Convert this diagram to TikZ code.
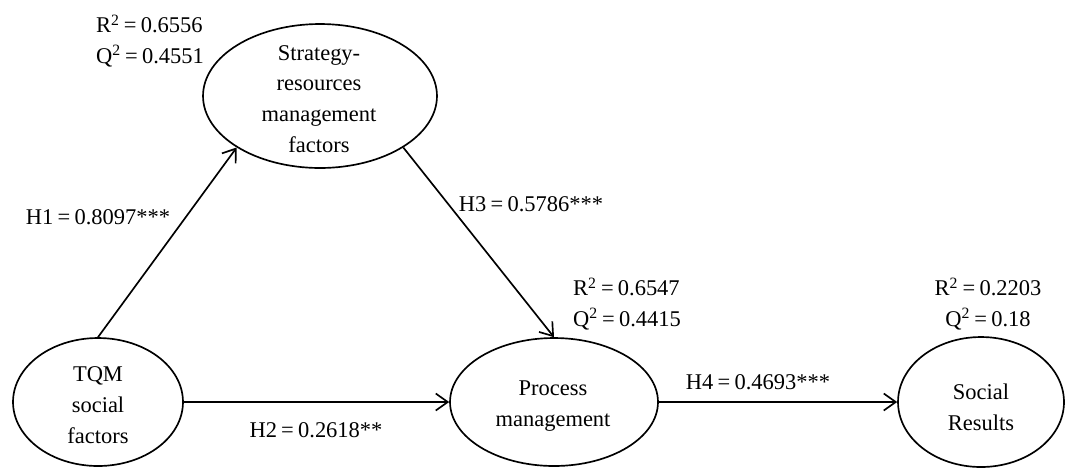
\documentclass[tikz,border=0pt]{standalone}
\usepackage{fontspec}
\setmainfont{Liberation Serif}
\usetikzlibrary{shapes.geometric,arrows.meta}
\newcommand{\eqs}{\kern2.4pt=\kern2.4pt}
\begin{document}
\begin{tikzpicture}[x=0.02cm,y=-0.02cm,
  lat/.style={draw, ellipse, line width=0.95pt, inner sep=0pt},
  txt/.style={font=\fontsize{12.8}{17.5}\selectfont, align=center, inner sep=0pt},
  txtl/.style={font=\fontsize{12.8}{17.5}\selectfont, align=left, inner sep=0pt},
  conn/.style={line width=0.95pt, -{Straight Barb[length=2.4mm,width=3.4mm,line width=0.95pt]}}
]
\useasboundingbox (0,0) rectangle (1067,468);
% latent variables
\node[lat, minimum width=3.4cm, minimum height=2.56cm] (T) at (98,402) {};
\node[lat, minimum width=4.68cm, minimum height=2.88cm] (S) at (320,96) {};
\node[lat, minimum width=4.16cm, minimum height=2.56cm] (P) at (554,402) {};
\node[lat, minimum width=3.32cm, minimum height=2.6cm] (R) at (981,402) {};
% texts in ellipses
\node[txt] (Tt) at (98,405) {TQM\\social\\factors};
\node[txt] (St) at (319,99) {Strategy-\\resources\\management\\factors};
\node[txt] (Pt) at (553,406) {Process\\management};
\node[txt] (Rt) at (981,407) {Social\\Results};
% connectors
\draw[conn] (T.north) -- (S.south west);
\draw[conn] (S.south east) -- (P.north);
\draw[conn] (T.east) -- (P.west);
\draw[conn] (P.east) -- (R.west);
% path labels
\node[txt] (h1) at (98,217) {H1\eqs0.8097***};
\node[txt] (h3) at (531,204) {H3\eqs0.5786***};
\node[txt] (h2) at (316,430) {H2\eqs0.2618**};
\node[txt] (h4) at (758,382) {H4\eqs0.4693***};
% R2 / Q2
\node[txtl] (sq) at (150,41) {R\textsuperscript{2}\eqs0.6556\\Q\textsuperscript{2}\eqs0.4551};
\node[txtl] (pq) at (627,304) {R\textsuperscript{2}\eqs0.6547\\Q\textsuperscript{2}\eqs0.4415};
\node[txt] (rq) at (988,304) {R\textsuperscript{2}\eqs0.2203\\Q\textsuperscript{2}\eqs0.18};
\end{tikzpicture}
\end{document}
